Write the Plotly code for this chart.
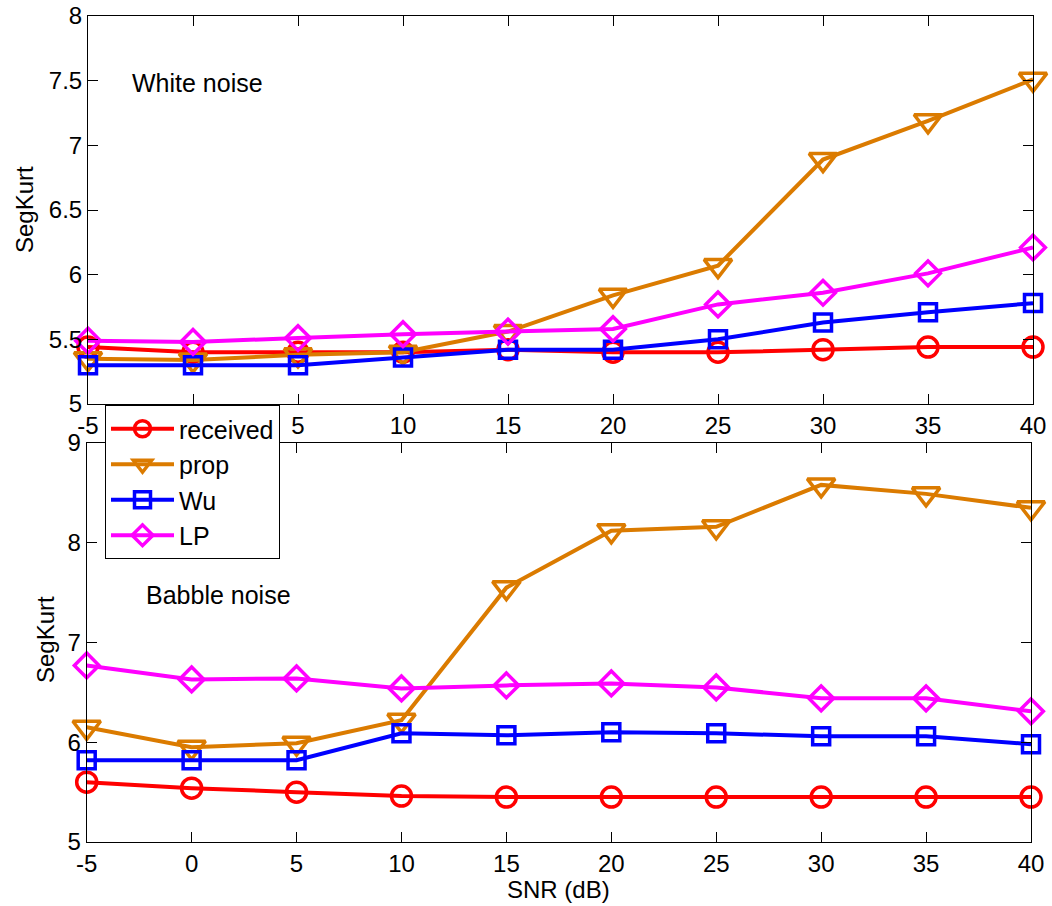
import plotly.graph_objects as go

snr = [-5, 0, 5, 10, 15, 20, 25, 30, 35, 40]

white_received = [5.44, 5.40, 5.40, 5.40, 5.42, 5.40, 5.40, 5.42, 5.44, 5.44]
white_prop     = [5.35, 5.34, 5.38, 5.40, 5.56, 5.84, 6.07, 6.89, 7.19, 7.51]
white_wu       = [5.30, 5.30, 5.30, 5.36, 5.42, 5.42, 5.50, 5.63, 5.71, 5.78]
white_lp       = [5.49, 5.48, 5.51, 5.54, 5.56, 5.58, 5.77, 5.86, 6.01, 6.21]

babble_received = [5.60, 5.54, 5.50, 5.46, 5.45, 5.45, 5.45, 5.45, 5.45, 5.45]
babble_prop     = [6.15, 5.95, 5.99, 6.22, 7.55, 8.12, 8.16, 8.58, 8.49, 8.35]
babble_wu       = [5.82, 5.82, 5.82, 6.09, 6.07, 6.10, 6.09, 6.06, 6.06, 5.98]
babble_lp       = [6.77, 6.63, 6.64, 6.54, 6.57, 6.59, 6.55, 6.44, 6.44, 6.31]

names = ["received", "prop", "Wu", "LP"]
colors = ["#FF0000", "#DB7B00", "#0000FF", "#FF00FF"]
symbols = ["circle-open", "triangle-down-open", "square-open", "diamond-open"]
sizes = [20, 24, 17, 19]

W, H = 1052, 906
FONT = "Liberation Sans, Arial, sans-serif"

fig = go.Figure()

top_series = [white_received, white_prop, white_wu, white_lp]
bot_series = [babble_received, babble_prop, babble_wu, babble_lp]

for i in range(4):
    fig.add_trace(go.Scatter(
        x=snr, y=top_series[i], name=names[i], mode="lines+markers",
        line=dict(color=colors[i], width=4),
        marker=dict(symbol=symbols[i], size=sizes[i], color=colors[i],
                    line=dict(color=colors[i], width=3.5)),
        xaxis="x", yaxis="y", showlegend=False, cliponaxis=False))
for i in range(4):
    fig.add_trace(go.Scatter(
        x=snr, y=bot_series[i], name=names[i], mode="lines+markers",
        line=dict(color=colors[i], width=4),
        marker=dict(symbol=symbols[i], size=sizes[i], color=colors[i],
                    line=dict(color=colors[i], width=3.5)),
        xaxis="x2", yaxis="y2", showlegend=True, cliponaxis=False))

def px_x(p):
    return p / W

def px_y(p):
    return 1 - p / H

axis_common = dict(
    showgrid=False, zeroline=False, showline=True, linecolor="black",
    linewidth=1, mirror="ticks", ticks="inside", ticklen=10, tickcolor="black",
    tickwidth=1, tickfont=dict(family=FONT, size=24, color="black"),
    automargin=False,
)

fig.update_layout(
    width=W, height=H,
    margin=dict(l=0, r=0, t=0, b=0),
    paper_bgcolor="white", plot_bgcolor="white",
    font=dict(family=FONT, size=24, color="black"),
    xaxis=dict(domain=[px_x(88), px_x(1033)], range=[-5, 40], anchor="y",
               tickvals=snr, ticktext=[str(v) for v in snr], **axis_common),
    yaxis=dict(domain=[px_y(404), px_y(16)], range=[5, 8], anchor="x",
               tickvals=[5, 5.5, 6, 6.5, 7, 7.5, 8],
               ticktext=["5", "5.5", "6", "6.5", "7", "7.5", "8"], **axis_common),
    xaxis2=dict(domain=[px_x(86.7), px_x(1031)], range=[-5, 40], anchor="y2",
                tickvals=snr, ticktext=[str(v) for v in snr], **axis_common),
    yaxis2=dict(domain=[px_y(842), px_y(443)], range=[5, 9], anchor="x2",
                tickvals=[5, 6, 7, 8, 9], ticktext=["5", "6", "7", "8", "9"],
                **axis_common),
    legend=dict(x=px_x(105), y=px_y(405), xanchor="left", yanchor="top",
                bgcolor="white", bordercolor="black", borderwidth=1,
                font=dict(family=FONT, size=25, color="black"),
                tracegroupgap=0, itemsizing="trace", itemwidth=63,
                entrywidth=108, entrywidthmode="pixels"),
    annotations=[
        dict(text="White noise", x=-3, y=7.48, xref="x", yref="y",
             xanchor="left", yanchor="middle", showarrow=False,
             font=dict(family=FONT, size=25, color="black")),
        dict(text="Babble noise", x=-2.27, y=7.48, xref="x2", yref="y2",
             xanchor="left", yanchor="middle", showarrow=False,
             font=dict(family=FONT, size=25, color="black")),
        dict(text="SegKurt", x=px_x(25), y=px_y(210), xref="paper", yref="paper",
             textangle=-90, showarrow=False, xanchor="center", yanchor="middle",
             font=dict(family=FONT, size=24, color="black")),
        dict(text="SegKurt", x=px_x(45), y=px_y(640), xref="paper", yref="paper",
             textangle=-90, showarrow=False, xanchor="center", yanchor="middle",
             font=dict(family=FONT, size=24, color="black")),
        dict(text="SNR (dB)", x=px_x(558), y=px_y(889), xref="paper", yref="paper",
             showarrow=False, xanchor="center", yanchor="middle",
             font=dict(family=FONT, size=24, color="black")),
    ],
)

fig.write_html("out.html")
